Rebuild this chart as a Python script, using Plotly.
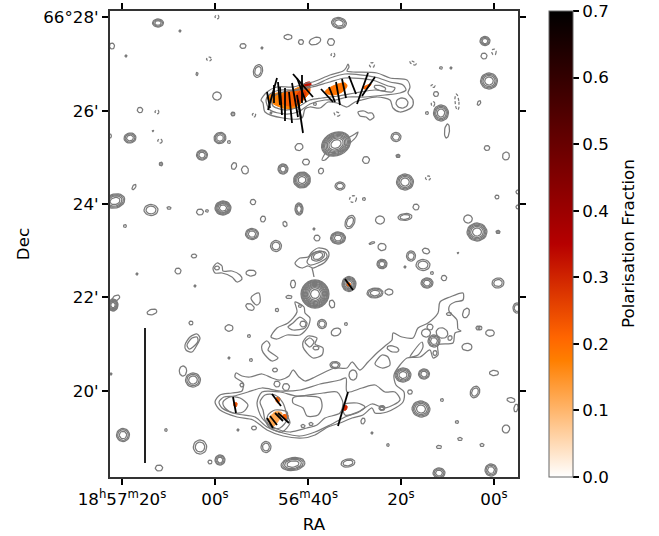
import numpy as np
import plotly.graph_objects as go

# Map frame: x, y are image (map) pixels, like a WCS plot; ticks sit at their sky positions.
ra_ticks = [122, 215, 308, 401, 494]
ra_labels = ["18<sup>h</sup>57<sup>m</sup>20<sup>s</sup>", "00<sup>s</sup>", "56<sup>m</sup>40<sup>s</sup>", "20<sup>s</sup>", "00<sup>s</sup>"]
dec_ticks = [17, 110.7, 204, 297, 390.7]
dec_labels = ["66°28'", "26'", "24'", "22'", "20'"]

# Compact sources: x, y, semi-axes, tilt (deg), number of contour levels
sources = [
 (158,23,5.5,4,0,3),(180,31,1,1,0,1),(112,46,2.5,3,0,1),(126,56,1,1,0,1),(243,46,3,2.5,0,1),(262,48,1,1,0,1),
 (288,37,4,2.5,0,1),(301,42,2.5,2.5,0,1),(197,74,1,1.5,0,1),(258,71,4.5,6.5,15,2),(217,96,4.3,4,0,1),
 (140,110,2.7,2.7,0,1),(233,114,2,2,0,2),(153,131,.7,.7,0,1),(110,136,1.5,2,0,1),(130,138,6,5,-10,3),
 (220,138,6,5.5,-20,3),(229,142,1.5,1.5,0,1),(202,155,5.5,5,0,3),(299,147,4,3.5,-20,1),(161,164,1.8,1.8,0,2),
 (234,166,2.5,3.5,20,1),(245,170,3.5,4,-15,1),(283,169,5,5,0,3),(306,162,3.5,3,0,1),(302,180,8.5,8,-15,5),
 (115,201,10,7,-15,4),(151,210,7,5.5,0,2),(169,208,2,1.3,0,1),(223,208,8,7,0,5),(200,212,3.5,3,0,1),
 (207,211,1.5,1.2,0,1),(253,202,2.7,2.7,0,1),(299,209,4,6,0,3),(125,226,1.5,1.5,0,1),(263,219,2.5,3,15,1),
 (285,224,2,2.7,-20,1),(252,234,6.5,5.5,0,3),(339,23,7.5,5.5,10,3),(315,41,6,3.5,-20,1),(331,42,3.5,3.5,0,1),
 (441,68,1.5,1.2,0,1),(451,68,1,1,0,1),(436,94,2.5,2.5,0,1),(427,113,1.5,1.5,0,1),(441,113,7.5,8,0,4),
 (447,131,2.5,7,5,1),(485,41,5,4.5,0,3),(484,56,3,3,0,1),(489,81,8.5,8,0,4),(479,103,1.5,2.5,25,1),
 (396,137,5,4.5,0,2),(336,144,15,11.5,-25,8),(398,156,2,1.7,0,2),(366,160,3.5,3.5,0,1),(487,148,2.7,2.5,0,1),
 (506,156,3.5,4,10,1),(321,171,2.5,3,20,1),(340,186,5,4,0,2),(405,182,8.5,8,0,4),(364,199,1.5,1.5,0,1),
 (497,197,2,2,0,1),(416,207,3,3,0,1),(518,192,2,2,0,1),(518,207,2,2,0,1),(350,222,4.5,7,25,2),(380,220,4.5,4,0,1),
 (405,217,7,3.5,-5,2),(468,219,4.3,4,0,1),(477,232,10,9,0,5),(498,232,2,1.7,0,2),(314,229,1,1,0,1),
 (317,238,3,3,0,1),(338,238,7.5,6,0,4),(276,246,5.5,5.5,0,2),(251,273,5,3,0,1),(318,256,7,4.5,-25,2),
 (372,243,3,1,-20,1),(382,247,4,3.7,0,1),(411,256,4.5,5,0,2),(426,251,3.7,2.7,20,1),(382,264,5,4.7,0,3),
 (423,265,7,5.5,0,2),(405,267,1,1,0,1),(432,273,1.5,1.5,0,1),(427,283,6,5,0,3),(444,278,2.7,2.7,0,1),
 (458,253,.7,.7,0,1),(293,284,2.5,4,0,1),(349,284,7,7.5,0,5),(315,294,14,14,0,10),(375,293,8,5,-3,3),
 (389,292,4,3,0,1),(289,297,3,1.7,0,1),(332,304,2.7,4,-10,1),(277,310,1.7,1.7,0,1),(322,324,4.5,4.5,0,2),
 (346,324,1.5,1.5,0,1),(336,332,5,3.7,-25,1),(467,347,5,3.7,0,1),(466,313,3.2,5,20,1),(478,328,2,2,0,1),
 (194,256,2.7,2,0,1),(178,271,3,3,0,1),(137,274,1,1,0,1),(195,286,1,1,0,1),(217,268,2.5,2,0,1),(250,307,4.5,3,30,1),
 (113,305,5,6,0,5),(116,298,4,2.5,-30,1),(152,312,5,2.7,-15,1),(191,323,2,2,0,1),(229,328,4,3.3,0,1),
 (249,336,1.5,1.5,0,1),(229,358,1,1,0,1),(251,360,1.5,1.5,0,1),(111,374,1,1,0,1),(183,371,3.7,5,0,1),
 (193,380,7.5,7,0,3),(123,435,6.5,6.5,0,3),(166,430,1.3,1.3,0,1),(200,447,6.7,7,0,2),(210,462,2,2,0,1),
 (220,460,5,5,0,3),(159,468,3.7,3,0,1),(238,430,1,1,0,1),(266,447,5,5.5,0,2),(388,445,1.3,1.3,0,1),
 (372,433,1,1,0,1),(254,428,2.5,2,0,1),(363,421,2,3,15,1),(410,392,2.3,2.3,0,1),(421,409,9,8,10,4),
 (403,375,8,7,0,4),(424,374,5.5,5,0,3),(442,400,1.5,1.5,0,1),(475,392,4.5,6,25,2),(494,373,4.5,2.7,0,1),
 (498,283,6,5,-10,2),(517,308,4,5,0,2),(490,333,4.3,3.3,0,1),(480,328,2,2,0,1),(511,400,4,2.3,10,1),
 (516,408,2,4,10,1),(457,422,1.7,1.3,0,1),(506,429,3.7,4,15,1),(460,439,2.3,1.5,0,1),(482,445,2,1.5,0,1),
 (439,447,2.5,1.7,0,1),(439,473,6,5,0,3),(491,470,6,6,0,3),(293,464,12,6.5,-8,4),(348,463,7,4,-10,2),
 (393,349,6,3,15,1),(430,327,3,3,0,1),(426,333,4.5,4,0,1),(442,333,6,5,25,1),(434,341,6,6,0,3),(450,338,2,2.5,25,1),
 (435,353,2,2.5,0,1),(449,314,2.5,1.5,0,1),(242,385,2,2,0,1),(277,384,3,3,0,1),(286,387,3.5,3.5,0,1),
 (353,375,4,5,0,1),(303,426,2,1.5,0,1),(311,424,2,1.5,0,1),(382,408,3,2.5,0,2),(335,365,5,3.5,0,2),(275,370,2.5,2,0,1),
 (380,88,6,2.5,15,1),(402,103,6,5,0,1),(315,104,1.5,1.5,0,1),(271,113,1,1,0,1),(303,324,3,3,0,1),(300,306,1.5,1.5,0,1),
 (316,348,3,2,0,1),(134,187,1.5,3,30,1),
]
# Negative (dashed) contours
dashed_sources = [(217,17,2,2,0),(209,59,2.5,2,0),(157,112,2,2,0),(254,115,1.7,2,0),(160,141,2.3,2,20),
 (333,55,2,2,0),(372,65,2.5,2.5,0),(413,63,3.5,1.5,25),(433,86,2,1.5,0),(433,104,1.8,2.5,0),(457,102,2,8,-5),
 (494,52,2.2,3,0),(337,114,3,2,25),(428,178,2.5,2.2,0),(353,199,3.5,3.5,0)]

south_outer_x = [215,220,232,242,243,235,236,242,250,262,272,280,289,293,299,305,315,325,335,347,352,360,368,378,385,392,393,402,413,418,428,438,440,450,463,463,455,450,449,457,458,461,455,453,438,438,433,430,420,407,400,394,396,404,403,387,375,372,363,352,340,328,315,303,283,267,253,237,220,215]
south_outer_y = [402,395,393,391,383,377,373,376,377,374,378,380,376,370,377,381,377,372,368,368,362,370,362,352,346,340,333,337,338,328,323,313,302,297,293,300,302,305,311,320,329,331,333,343,345,355,358,350,357,358,365,375,385,392,402,412,413,408,415,418,423,427,435,438,436,430,420,417,410,402]
south_mid_x = [219,224,234,248,262,280,300,320,340,346,347,362,375,385,395,400,385,372,360,345,330,315,300,283,267,255,237,222,219]
south_mid_y = [402,397,396,392,388,391,390,384,380,378,392,388,385,392,392,400,408,404,411,417,425,432,436,433,427,417,414,408,402]
south_main_x = [257,262,280,297,323,337,343,340,325,317,307,290,275,262,257]
south_main_y = [403,392,392,396,393,392,403,413,418,425,428,432,428,418,403]
south_knot_x = [223,230,240,248,243,233,225,223]
south_knot_y = [402,397,398,405,412,413,408,402]
south_hole_x = [293,307,320,322,318,307,303,293,293]
south_hole_y = [398,396,398,407,415,416,408,403,398]
south_core_x = [263,260,265,275,283,287,290,282,270,265,263]
south_core_y = [410,402,395,395,403,415,423,432,428,420,410]
south_core2_x = [267,268,275,287,287,280,272,267]
south_core2_y = [422,415,410,412,420,428,428,422]
south_east_x = [343,357,365,357,345,343]
south_east_y = [405,403,407,413,415,405]
arc_hole_x = [413,422,423,418,410,413]
arc_hole_y = [352,342,347,355,357,352]
arc_box_x = [382,388,390,382,375,382]
arc_box_y = [355,357,365,368,364,355]

north_outer_x = [261,267,277,293,307,313,330,343,346,348,349,347,353,377,390,407,410,408,413,412,400,393,390,377,362,355,347,337,328,320,310,305,302,283,265,263,261]
north_outer_y = [100,92,87,87,83,82,75,71,68,64,67,71,72,73,78,80,87,93,100,107,112,108,100,97,100,102,107,103,102,108,107,109,118,118,112,103,100]
north_mid_x = [266,270,280,295,310,317,330,345,375,390,403,406,400,385,365,348,335,325,310,298,285,270,266]
north_mid_y = [100,94,90,90,86,84,78,74,77,82,85,90,93,95,97,97,100,100,104,112,114,110,100]
north_inner_x = [272,283,300,312,330,345,372,388,395,392,375,355,338,322,310,296,285,273,272]
north_inner_y = [98,92,90,87,82,78,80,86,88,92,90,93,96,98,100,108,110,106,98]
ribbon_x = [358,364,368,372,374,370,366,360,358]
ribbon_y = [112,111,113,113,117,120,117,116,112]
tail_ne_x = [348,355,358,356,350]
tail_ne_y = [138,134,132,137,143]
tail_sw_x = [326,322,325,330]
tail_sw_y = [152,160,160,155]

cloud_x = [295,300,308,312,318,327,329,325,318,313,308,302,297,295]
cloud_y = [263,258,257,252,248,250,255,262,266,268,266,268,266,263]
cloud_in_x = [307,313,325,327,318,310,307]
cloud_in_y = [262,253,252,257,263,265,262]
link_x = [312,313,314]
link_y = [268,272,277]
stem_x = [295,297,288,277,271,277,287,300,308,310,305,304,295]
stem_y = [302,312,323,328,337,339,335,335,327,318,313,307,302]
stem_in_x = [288,293,300,307,305,293,288]
stem_in_y = [327,323,317,323,328,330,327]
lobe_x = [303,308,317,315,323,322,313,307,303,303]
lobe_y = [342,336,338,344,348,355,358,353,347,342]
lobe_in_x = [305,310,314,310,305]
lobe_in_y = [342,338,342,347,342]
hook_x = [262,267,270,268,278,272,265,262,262]
hook_y = [345,341,345,350,358,361,355,350,345]
bean_x = [251,255,259,260,257,253,251]
bean_y = [298,294,293,302,305,302,298]
ribbon_w_x = [213,217,222,223,232,240,242,237,232,222,215,213]
ribbon_w_y = [268,263,266,271,271,275,279,282,277,273,273,268]
peanut_x = [185,190,197,200,197,192,186,185]
peanut_y = [345,337,334,338,345,352,350,345]
peanut_in_x = [187,192,197,198,193,189,187]
peanut_in_y = [345,338,337,341,347,349,345]

closed_contours = [
 (south_outer_x,south_outer_y),(south_mid_x,south_mid_y),(south_main_x,south_main_y),(south_knot_x,south_knot_y),
 (south_hole_x,south_hole_y),(south_core_x,south_core_y),(south_core2_x,south_core2_y),(south_east_x,south_east_y),
 (arc_hole_x,arc_hole_y),(arc_box_x,arc_box_y),(north_outer_x,north_outer_y),(north_mid_x,north_mid_y),
 (north_inner_x,north_inner_y),(ribbon_x,ribbon_y),(tail_ne_x,tail_ne_y),(tail_sw_x,tail_sw_y),(cloud_x,cloud_y),
 (cloud_in_x,cloud_in_y),(link_x,link_y),(stem_x,stem_y),(stem_in_x,stem_in_y),(lobe_x,lobe_y),(lobe_in_x,lobe_in_y),
 (hook_x,hook_y),(bean_x,bean_y),(ribbon_w_x,ribbon_w_y),(peanut_x,peanut_y),(peanut_in_x,peanut_in_y),
]

# Polarisation fraction patches: value, outline x, outline y
patch_values = [0.17, 0.22, 0.27, 0.33, 0.19, 0.21, 0.12, 0.22, 0.22, 0.24, 0.30, 0.22]
patch_x = [
 [267,277,288,297,308,310,300,290,280,272],
 [284,293,300,308,310,303,296,290,282],
 [296,302,306,302,297],
 [304,310,311,307],
 [325,333,345,347,342,332],
 [364,371,370,364],
 [268,275,282,279,272,268],
 [283,288,287,283],
 [277,280,278,276],
 [234,237,236,234],
 [343,347,346,343],
 [347,350,350,347],
]
patch_y = [
 [97,93,92,88,83,87,104,109,107,103],
 [93,90,89,85,91,100,105,106,103],
 [96,90,93,100,102],
 [84,82,85,87],
 [92,86,83,86,92,95],
 [87,84,86,89],
 [420,412,413,420,427,420],
 [415,415,419,418],
 [397,398,403,401],
 [403,403,407,406],
 [406,406,410,410],
 [283,283,286,286],
]

# Polarisation vectors: end points in map pixels
vec_x0 = [277,267,278,274,280,285,289,292,297,302,293,297,298,321,329,336,342,349,368,375,233,272,267,270,275,278,348,345]
vec_y0 = [78,92,82,85,87,88,92,83,95,75,74,78,100,89,87,82,79,76,73,77,397,394,418,416,413,413,392,279]
vec_x1 = [268,270,280,274,282,285,292,298,301,302,313,306,303,333,335,340,346,356,357,362,236,281,273,277,283,289,338,353]
vec_y1 = [110,108,105,103,115,121,123,117,118,103,97,102,133,102,102,105,98,94,104,96,413,406,428,425,421,423,426,290]

bar_x = [145, 145]
bar_y = [328, 463]

def heat(v):
    t = 1 - v / 0.7
    return "rgb(%d,%d,%d)" % (255 * min(1, t / 0.7), 255 * max(0, 2 * t - 1), 255 * max(0, 4 * t - 3))

colorscale = [[i / 20, heat(0.7 * i / 20)] for i in range(21)]

def ellipse(cx, cy, rx, ry, tilt, f=1.0):
    a = np.linspace(0, 2 * np.pi, 25)
    t = np.radians(tilt)
    ex, ey = rx * f * np.cos(a), ry * f * np.sin(a)
    return list(cx + ex * np.cos(t) - ey * np.sin(t)) + [None], list(cy + ex * np.sin(t) + ey * np.cos(t)) + [None]

fig = go.Figure()
for v, px, py in zip(patch_values, patch_x, patch_y):
    fig.add_trace(go.Scatter(x=px + px[:1], y=py + py[:1], mode="lines", fill="toself", fillcolor=heat(v),
                             line=dict(color=heat(v), width=1, shape="spline"), hoverinfo="skip", showlegend=False))

LINE = "#7a7a7a"
WIDTH = 1.25
sx, sy = [], []
for cx, cy, rx, ry, tilt, n in sources:
    for k in range(n):
        ex, ey = ellipse(cx, cy, rx, ry, tilt, np.sqrt(1 - k / n))
        sx += ex
        sy += ey
fig.add_trace(go.Scatter(x=sx, y=sy, mode="lines", line=dict(color=LINE, width=WIDTH), showlegend=False, hoverinfo="skip"))

dx, dy = [], []
for cx, cy, rx, ry, tilt in dashed_sources:
    ex, ey = ellipse(cx, cy, rx, ry, tilt)
    dx += ex
    dy += ey
fig.add_trace(go.Scatter(x=dx, y=dy, mode="lines", line=dict(color=LINE, width=WIDTH, dash="3px,2px"), showlegend=False, hoverinfo="skip"))

for cxs, cys in closed_contours:
    fig.add_trace(go.Scatter(x=cxs, y=cys, mode="lines", line=dict(color=LINE, width=WIDTH, shape="spline", smoothing=0.8),
                             showlegend=False, hoverinfo="skip"))

vx, vy = [], []
for a, b, c, d in zip(vec_x0, vec_y0, vec_x1, vec_y1):
    vx += [a, c, None]
    vy += [b, d, None]
fig.add_trace(go.Scatter(x=vx, y=vy, mode="lines", line=dict(color="black", width=1.8), showlegend=False, hoverinfo="skip"))
fig.add_trace(go.Scatter(x=bar_x, y=bar_y, mode="lines", line=dict(color="#222222", width=2), showlegend=False, hoverinfo="skip"))

FS = 16.7
fig.add_trace(go.Scatter(x=[None], y=[None], mode="markers", showlegend=False, hoverinfo="skip",
    marker=dict(color=[0], colorscale=colorscale, cmin=0, cmax=0.7, showscale=True,
        colorbar=dict(x=439 / 408, xanchor="left", y=0.5, yanchor="middle", len=1, lenmode="fraction", thickness=24,
            xpad=0, ypad=0, outlinecolor="#666666", outlinewidth=1, ticks="outside", ticklen=6, tickcolor="black", tickwidth=1.5,
            tickvals=[0, .1, .2, .3, .4, .5, .6, .7], tickformat=".1f", tickfont=dict(size=FS, color="black")))))
fig.add_annotation(text="Polarisation Fraction", xref="paper", yref="paper", x=518 / 408, y=0.5, xshift=0, textangle=-90,
                   showarrow=False, font=dict(size=FS, color="black"), xanchor="center", yanchor="middle")

FONT = "DejaVu Sans"
axis = dict(showgrid=False, zeroline=False, showline=True, linecolor="#333333", linewidth=2, mirror="ticks", automargin=False,
            ticks="outside", ticklen=6, tickwidth=1.5, tickcolor="black", tickfont=dict(size=FS, color="black"))
fig.update_xaxes(range=[110, 518], tickmode="array", tickvals=ra_ticks, ticktext=ra_labels,
                 title=dict(text="RA", font=dict(size=FS, color="black"), standoff=10), **axis)
fig.update_yaxes(range=[477, 11], tickmode="array", tickvals=dec_ticks, ticktext=dec_labels,
                 title=dict(text="Dec", font=dict(size=FS, color="black"), standoff=9), **axis)
fig.update_layout(width=659, height=536, margin=dict(l=110, r=141, t=11, b=59, autoexpand=False), paper_bgcolor="white",
                  plot_bgcolor="white", font=dict(family=FONT, color="black"), showlegend=False)
fig.write_html("out.html", config={"displayModeBar": False},
               post_script="document.body.style.margin='0';document.documentElement.style.overflow='hidden';")
